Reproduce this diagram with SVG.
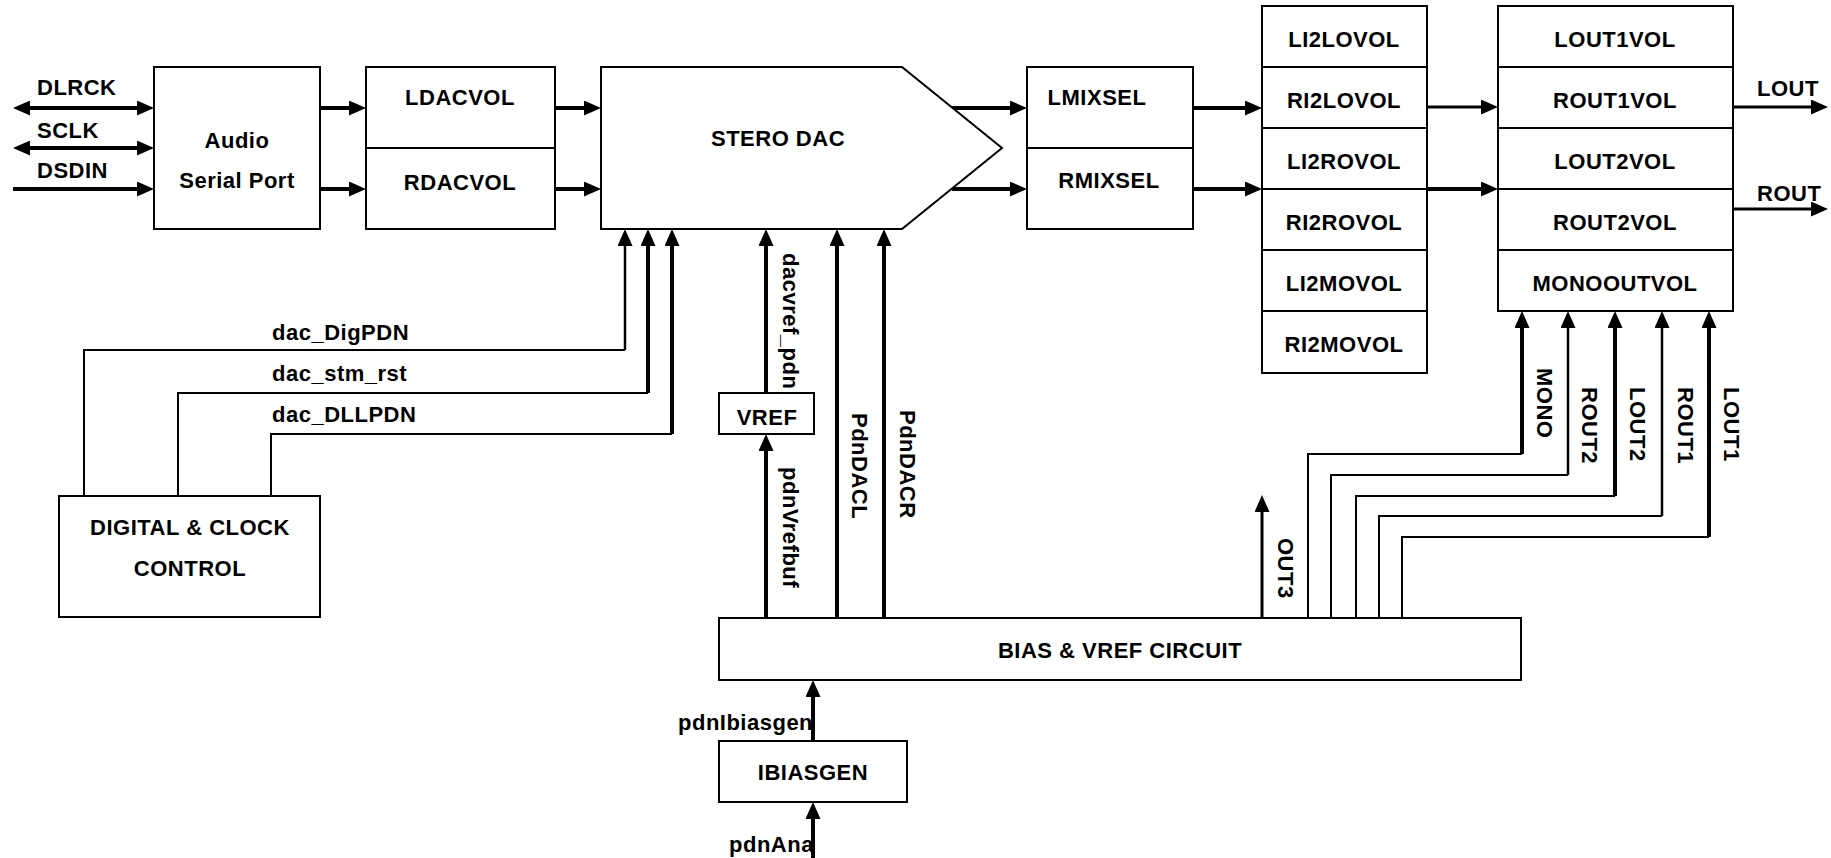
<svg xmlns="http://www.w3.org/2000/svg" width="1831" height="858" viewBox="0 0 1831 858">
<style>
.t{font-family:"Liberation Sans",Arial,sans-serif;font-weight:bold;font-size:22px;letter-spacing:0.5px;fill:#000}
.c{text-anchor:middle}
.box{fill:#fff;stroke:#000;stroke-width:2}
.ln{fill:none;stroke:#000;stroke-width:2}
.w25{fill:none;stroke:#000;stroke-width:2.5}
.w3{fill:none;stroke:#000;stroke-width:3}
.w4{fill:none;stroke:#000;stroke-width:4}
.a{marker-end:url(#ah)}
.aa{marker-start:url(#ah);marker-end:url(#ah)}
</style>
<defs>
<marker id="ah" viewBox="0 0 17 15" refX="9" refY="7.5" markerWidth="17" markerHeight="15" orient="auto-start-reverse" markerUnits="userSpaceOnUse"><path d="M0,0 L17,7.5 L0,15 z" fill="#000"/></marker>
</defs>
<rect width="1831" height="858" fill="#fff"/>

<g id="connectors">
<path class="w4 aa" d="M21,108 H146"/>
<path class="w4 aa" d="M21,148 H146"/>
<path class="w4 a" d="M13,189 H146"/>
<path class="w4 a" d="M320,108 H358"/>
<path class="w4 a" d="M320,189 H358"/>
<path class="w4 a" d="M555,108 H593"/>
<path class="w4 a" d="M555,189 H593"/>
<path class="w4 a" d="M952,108 H1019"/>
<path class="w4 a" d="M952,189 H1019"/>
<path class="w4 a" d="M1193,108 H1254"/>
<path class="w4 a" d="M1193,189 H1254"/>
<path class="w3 a" d="M1427,107 H1490"/>
<path class="w4 a" d="M1427,189 H1490"/>
<path class="w3 a" d="M1733,107 H1820"/>
<path class="w3 a" d="M1733,209 H1820"/>

<path class="ln" d="M84,496 V350 H625"/>
<path class="w25 a" d="M625,350 V237"/>
<path class="ln" d="M178,496 V393 H648"/>
<path class="w4 a" d="M648,393 V237"/>
<path class="ln" d="M271,496 V434 H672"/>
<path class="w4 a" d="M672,434 V237"/>

<path class="w4 a" d="M766,393 V237"/>
<path class="w4 a" d="M766,618 V442"/>
<path class="w4 a" d="M837,618 V237"/>
<path class="w4 a" d="M884,618 V237"/>

<path class="w3 a" d="M1262,618 V503"/>
<path class="ln" d="M1308,618 V454 H1522"/>
<path class="w4 a" d="M1522,454 V319"/>
<path class="ln" d="M1331,618 V475 H1568"/>
<path class="w25 a" d="M1568,475 V319"/>
<path class="ln" d="M1356,618 V496 H1615"/>
<path class="w4 a" d="M1615,496 V319"/>
<path class="ln" d="M1379,618 V516 H1662"/>
<path class="w25 a" d="M1662,516 V319"/>
<path class="ln" d="M1402,618 V537 H1709"/>
<path class="w4 a" d="M1709,537 V319"/>

<path class="w4 a" d="M813,741 V688"/>
<path class="w4 a" d="M813,858 V810"/>
</g>

<g id="labels">
<text class="t" x="37" y="95">DLRCK</text>
<text class="t" x="37" y="138">SCLK</text>
<text class="t" x="37" y="178">DSDIN</text>
<text class="t" x="1757" y="96">LOUT</text>
<text class="t" x="1757" y="201">ROUT</text>
<text class="t" x="272" y="340">dac_DigPDN</text>
<text class="t" x="272" y="381">dac_stm_rst</text>
<text class="t" x="272" y="422">dac_DLLPDN</text>
<text class="t" transform="translate(783,253) rotate(90)">dacvref_pdn</text>
<text class="t" transform="translate(783,467) rotate(90)">pdnVrefbuf</text>
<text class="t" transform="translate(852,413) rotate(90)">PdnDACL</text>
<text class="t" transform="translate(900,410) rotate(90)">PdnDACR</text>
<text class="t" transform="translate(1278,538) rotate(90)">OUT3</text>
<text class="t" transform="translate(1537,368) rotate(90)">MONO</text>
<text class="t" transform="translate(1582,387) rotate(90)">ROUT2</text>
<text class="t" transform="translate(1630,387) rotate(90)">LOUT2</text>
<text class="t" transform="translate(1678,387) rotate(90)">ROUT1</text>
<text class="t" transform="translate(1724,387) rotate(90)">LOUT1</text>
<text class="t" x="678" y="730">pdnIbiasgen</text>
<text class="t" x="729" y="852">pdnAna</text>
</g>

<g id="audio-serial-port">
<rect class="box" x="154" y="67" width="166" height="162"/>
<text class="t c" x="237" y="148">Audio</text>
<text class="t c" x="237" y="188">Serial Port</text>
</g>

<g id="dacvol">
<rect class="box" x="366" y="67" width="189" height="162"/>
<line class="ln" x1="366" y1="148" x2="555" y2="148"/>
<text class="t c" x="460" y="105">LDACVOL</text>
<text class="t c" x="460" y="190">RDACVOL</text>
</g>

<g id="stereo-dac">
<polygon class="box" points="601,67 902,67 1002,148 902,229 601,229"/>
<text class="t c" x="778" y="146">STERO DAC</text>
</g>

<g id="mixsel">
<rect class="box" x="1027" y="67" width="166" height="162"/>
<line class="ln" x1="1027" y1="148" x2="1193" y2="148"/>
<text class="t c" x="1097" y="105">LMIXSEL</text>
<text class="t c" x="1109" y="188">RMIXSEL</text>
</g>

<g id="mixer-vol">
<rect class="box" x="1262" y="6" width="165" height="367"/>
<path class="ln" d="M1262,67 H1427 M1262,128 H1427 M1262,189 H1427 M1262,250 H1427 M1262,311 H1427"/>
<text class="t c" x="1344" y="47">LI2LOVOL</text>
<text class="t c" x="1344" y="108">RI2LOVOL</text>
<text class="t c" x="1344" y="169">LI2ROVOL</text>
<text class="t c" x="1344" y="230">RI2ROVOL</text>
<text class="t c" x="1344" y="291">LI2MOVOL</text>
<text class="t c" x="1344" y="352">RI2MOVOL</text>
</g>

<g id="out-vol">
<rect class="box" x="1498" y="6" width="235" height="305"/>
<path class="ln" d="M1498,67 H1733 M1498,128 H1733 M1498,189 H1733 M1498,250 H1733"/>
<text class="t c" x="1615" y="47">LOUT1VOL</text>
<text class="t c" x="1615" y="108">ROUT1VOL</text>
<text class="t c" x="1615" y="169">LOUT2VOL</text>
<text class="t c" x="1615" y="230">ROUT2VOL</text>
<text class="t c" x="1615" y="291">MONOOUTVOL</text>
</g>

<g id="vref">
<rect class="box" x="719" y="393" width="95" height="41"/>
<text class="t c" x="767" y="425">VREF</text>
</g>

<g id="bias-vref-circuit">
<rect class="box" x="719" y="618" width="802" height="62"/>
<text class="t c" x="1120" y="658">BIAS &amp; VREF CIRCUIT</text>
</g>

<g id="ibiasgen">
<rect class="box" x="719" y="741" width="188" height="61"/>
<text class="t c" x="813" y="780">IBIASGEN</text>
</g>

<g id="digital-clock-control">
<rect class="box" x="59" y="496" width="261" height="121"/>
<text class="t c" x="190" y="535">DIGITAL &amp; CLOCK</text>
<text class="t c" x="190" y="576">CONTROL</text>
</g>
</svg>
